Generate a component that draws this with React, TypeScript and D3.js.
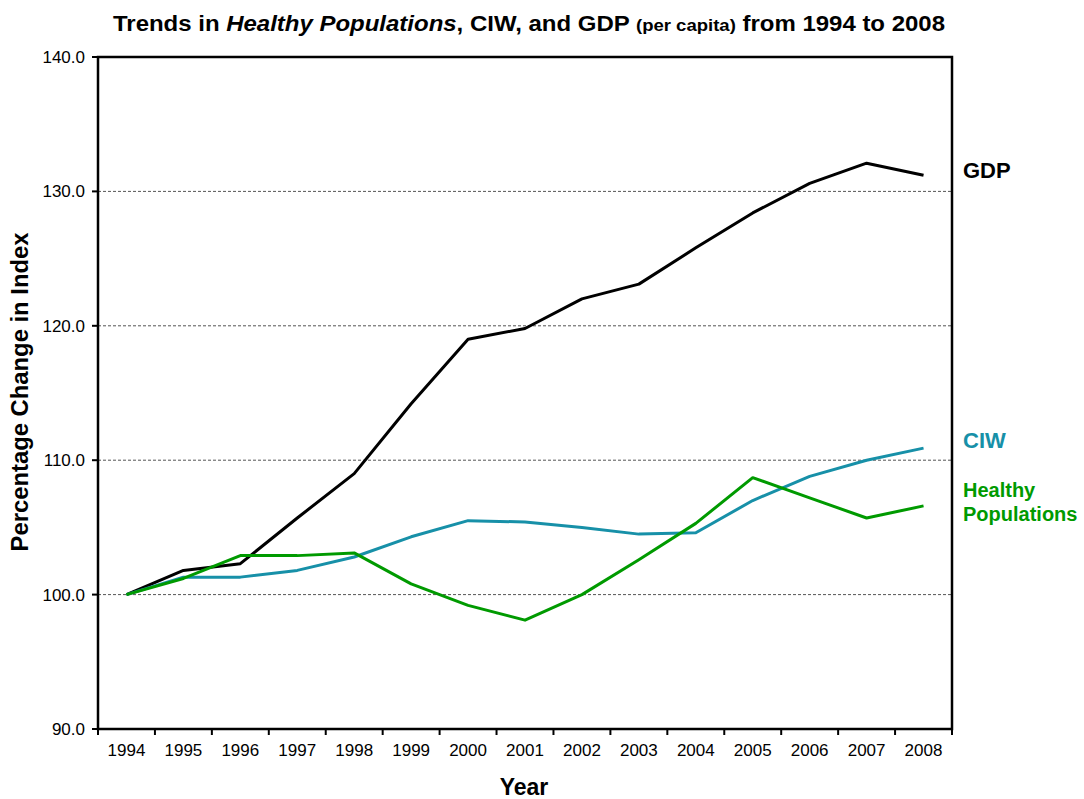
import React from "react";
import * as d3 from "d3";

const years = ["1994","1995","1996","1997","1998","1999","2000","2001","2002","2003","2004","2005","2006","2007","2008"];
const gdp = [100, 101.8, 102.3, 105.7, 109.0, 114.2, 119.0, 119.8, 122.0, 123.1, 125.8, 128.4, 130.6, 132.1, 131.2];
const ciw = [100, 101.3, 101.3, 101.8, 102.8, 104.3, 105.5, 105.4, 105.0, 104.5, 104.6, 107.0, 108.8, 110.0, 110.9];
const healthy = [100, 101.2, 102.9, 102.9, 103.1, 100.8, 99.2, 98.1, 100.0, 102.6, 105.3, 108.7, 107.2, 105.7, 106.6];
const yTickValues = [90, 100, 110, 120, 130, 140];

const series = [
  { name: "GDP", values: gdp, color: "#000000" },
  { name: "CIW", values: ciw, color: "#1790a8" },
  { name: "Healthy Populations", values: healthy, color: "#009a00" },
];

export default function App() {
  const width = 1084, height = 799;
  const marginLeft = 98, marginRight = 132, marginTop = 57, marginBottom = 70;
  const right = width - marginRight, bottom = height - marginBottom;

  const xScale = d3.scaleBand().domain(years).range([marginLeft, right]);
  const yScale = d3.scaleLinear().domain([90, 140]).range([bottom, marginTop]);
  const cx = (y: string) => (xScale(y) as number) + xScale.bandwidth() / 2;

  const line = d3.line<number>()
    .x((d, i) => cx(years[i]))
    .y(d => yScale(d));

  const font = "'Liberation Sans', Arial, sans-serif";

  return (
    <svg width={width} height={height} style={{ position: "absolute", left: 0, top: 0 }}>
      <rect width={width} height={height} fill="#fff" />
      <text x={113} y={31} textLength={832} lengthAdjust="spacingAndGlyphs" fontFamily={font} fontWeight="bold" fontSize={22} fill="#000">
        Trends in <tspan fontStyle="italic">Healthy Populations</tspan>, CIW, and GDP <tspan fontSize={17}>(per capita)</tspan> from 1994 to 2008
      </text>

      {/* gridlines */}
      {yTickValues.filter(d => d > 90 && d < 140).map(d => (
        <line key={d} x1={marginLeft} x2={right} y1={yScale(d)} y2={yScale(d)} stroke="#555" strokeWidth={1} strokeDasharray="3,2" />
      ))}

      {/* y ticks */}
      {yTickValues.map(d => (
        <g key={d} transform={`translate(${marginLeft},${yScale(d)})`}>
          <line x1={-6} x2={0} y1={0} y2={0} stroke="#000" strokeWidth={2} />
          <text x={-13} y={6} textAnchor="end" fontFamily={font} fontSize={17} fill="#000">{d.toFixed(1)}</text>
        </g>
      ))}

      {/* x ticks */}
      {years.map(y => (
        <g key={y}>
          <line x1={(xScale(y) as number)} x2={(xScale(y) as number)} y1={bottom} y2={bottom + 6} stroke="#000" strokeWidth={2} />
          <text x={cx(y)} y={bottom + 27} textAnchor="middle" fontFamily={font} fontSize={17} fill="#000">{y}</text>
        </g>
      ))}
      <line x1={right} x2={right} y1={bottom} y2={bottom + 6} stroke="#000" strokeWidth={2} />

      {series.map(s => (
        <path key={s.name} d={line(s.values) as string} fill="none" stroke={s.color} strokeWidth={3} strokeLinejoin="round" />
      ))}

      {/* plot frame */}
      <rect x={marginLeft} y={marginTop} width={right - marginLeft} height={bottom - marginTop} fill="none" stroke="#000" strokeWidth={2.5} />

      {/* series labels */}
      <text x={963} y={178} fontFamily={font} fontWeight="bold" fontSize={22} fill="#000">GDP</text>
      <text x={963} y={448} fontFamily={font} fontWeight="bold" fontSize={22} fill={series[1].color}>CIW</text>
      <text x={963} y={497} fontFamily={font} fontWeight="bold" fontSize={20} fill={series[2].color}>Healthy</text>
      <text x={963} y={521} fontFamily={font} fontWeight="bold" fontSize={20} fill={series[2].color}>Populations</text>

      {/* axis titles */}
      <text x={524} y={795} textAnchor="middle" fontFamily={font} fontWeight="bold" fontSize={23} fill="#000">Year</text>
      <text transform={`translate(28,392) rotate(-90)`} textAnchor="middle" textLength={319} lengthAdjust="spacingAndGlyphs" fontFamily={font} fontWeight="bold" fontSize={23} fill="#000">Percentage Change in Index</text>
    </svg>
  );
}
